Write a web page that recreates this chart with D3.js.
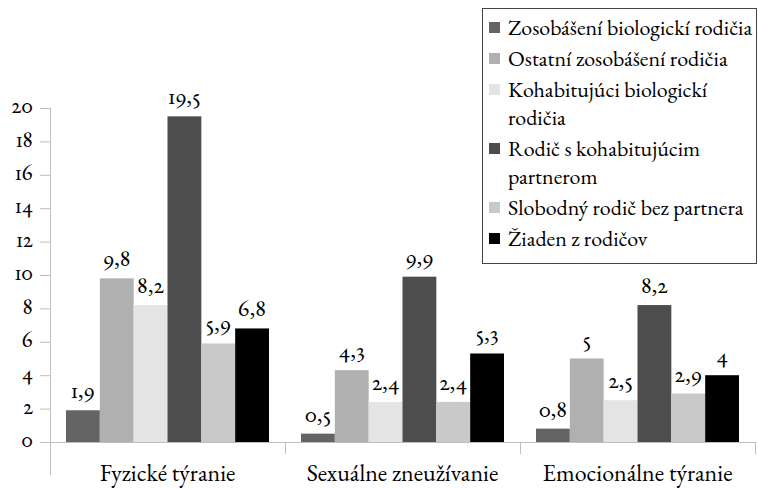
<!DOCTYPE html>
<html><head><meta charset="utf-8">
<script src="https://cdn.jsdelivr.net/npm/d3@7"></script>
<style>body{margin:0;background:#fff}svg{display:block}
svg text{font-family:"EB Garamond","Crimson Text","Liberation Serif",serif !important;font-variant-numeric:oldstyle-nums proportional-nums;font-feature-settings:"onum" 1,"pnum" 1}</style>
</head><body><svg id="c" width="758" height="489"></svg>
<script>
const categories = ["Fyzické týranie","Sexuálne zneužívanie","Emocionálne týranie"];
const seriesNames = ["Zosobášení biologickí rodičia","Ostatní zosobášení rodičia","Kohabitujúci biologickí rodičia","Rodič s kohabitujúcim partnerom","Slobodný rodič bez partnera","Žiaden z rodičov"];
const legendLines = [["Zosobášení biologickí rodičia"],["Ostatní zosobášení rodičia"],["Kohabitujúci biologickí","rodičia"],["Rodič s kohabitujúcim","partnerom"],["Slobodný rodič bez partnera"],["Žiaden z rodičov"]];
const seriesColors = ["#646464","#b0b0b0","#e4e4e4","#4d4d4d","#c9c9c9","#000000"];
const s1 = [1.9,0.5,0.8];
const s2 = [9.8,4.3,5];
const s3 = [8.2,2.4,2.5];
const s4 = [19.5,9.9,8.2];
const s5 = [5.9,2.4,2.9];
const s6 = [6.8,5.3,4];
const seriesValues = [s1,s2,s3,s4,s5,s6];
const yTicks = [0,2,4,6,8,10,12,14,16,18,20];

const svg = d3.select("#c");
const x0 = d3.scaleBand().domain(categories).range([50,755]).paddingInner(0).paddingOuter(0);
const x1 = d3.scaleBand().domain(d3.range(6)).range([16,x0.bandwidth()-16]).padding(0);
const y = d3.scaleLinear().domain([0,20]).range([442,108]);
const fmt = v => String(v).replace(".",",");

// y axis
const ya = svg.append("g").attr("transform","translate(50,0)")
  .call(d3.axisLeft(y).tickValues(yTicks).tickSize(10).tickPadding(7).tickFormat(d=>d));
ya.attr("font-family",null).attr("font-size",null);
ya.select(".domain").remove();
ya.selectAll(".tick line").attr("stroke","#bfbfbf");
ya.selectAll(".tick text").style("font-size","23px").attr("dy","0.2em").attr("fill","#000");
svg.append("line").attr("x1",50.5).attr("x2",50.5).attr("y1",y(20)).attr("y2",475).attr("stroke","#bfbfbf");

// x axis
const xa = svg.append("g").attr("transform","translate(0,442)")
  .call(d3.axisBottom(x0).tickSize(0));
xa.attr("font-family",null).attr("font-size",null);
xa.select(".domain").attr("stroke","#bfbfbf").attr("d","M50,0.5H755");
xa.selectAll(".tick text").style("font-size","24px").attr("y",39).attr("dy",0).attr("fill","#000");
svg.append("g").selectAll("line").data(categories.slice(1)).join("line")
  .attr("x1",d=>Math.round(x0(d))+0.5).attr("x2",d=>Math.round(x0(d))+0.5)
  .attr("y1",442).attr("y2",454).attr("stroke","#bfbfbf");
svg.append("line").attr("x1",755.5).attr("x2",755.5).attr("y1",442).attr("y2",454).attr("stroke","#bfbfbf");

// bars
const groups = svg.append("g").selectAll("g").data(categories).join("g")
  .attr("transform",d=>`translate(${x0(d)},0)`);
groups.each(function(cat,ci){
  const g = d3.select(this);
  seriesValues.forEach((vals,si)=>{
    const v = vals[ci];
    g.append("rect").attr("x",x1(si)).attr("width",x1.bandwidth()).attr("y",y(v)).attr("height",y(0)-y(v)).attr("fill",seriesColors[si]);
    g.append("text").attr("x",x1(si)+x1.bandwidth()/2).attr("y",y(v)-12).attr("text-anchor","middle")
      .style("font-size","24px").text(fmt(v));
  });
});

// legend
const lg = svg.append("g");
lg.append("rect").attr("x",482.5).attr("y",8.5).attr("width",274).attr("height",255).attr("fill","#fff").attr("stroke","#444");
let ly = 28;
legendLines.forEach((lines,i)=>{
  lg.append("rect").attr("x",489).attr("y",ly-6).attr("width",11).attr("height",11).attr("fill",seriesColors[i]);
  lines.forEach((t,j)=>{
    lg.append("text").attr("x",508).attr("y",ly+j*28).attr("dy","0.3em")
      .style("font-size","22px").text(t);
  });
  ly += (lines.length-1)*28 + 31;
});
</script></body></html>
